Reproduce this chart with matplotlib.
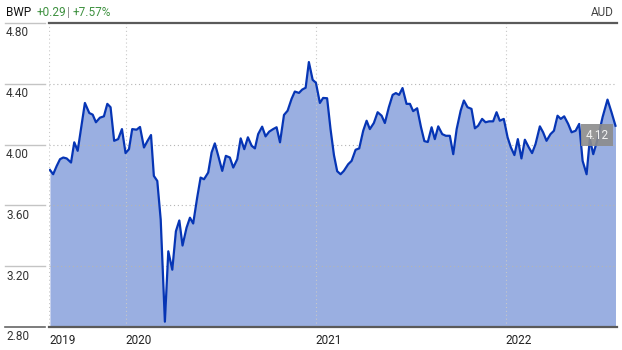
"""
BWP share price, weekly closes (AUD), area chart.
"""

import matplotlib
matplotlib.use('Agg')
import matplotlib.pyplot as plt
import matplotlib.transforms as mtransforms

# decimal year of each weekly close
t = [
    2019.600, 2019.617, 2019.635, 2019.653, 2019.670, 2019.688, 2019.711, 2019.728,
    2019.746, 2019.765, 2019.784, 2019.807, 2019.825, 2019.842, 2019.863, 2019.884,
    2019.902, 2019.919, 2019.938, 2019.959, 2019.979, 2019.998, 2020.016, 2020.033,
    2020.056, 2020.074, 2020.095, 2020.113, 2020.132, 2020.147, 2020.165, 2020.183,
    2020.205, 2020.223, 2020.244, 2020.263, 2020.281, 2020.298, 2020.319, 2020.337,
    2020.354, 2020.375, 2020.393, 2020.411, 2020.433, 2020.451, 2020.468, 2020.486,
    2020.507, 2020.526, 2020.547, 2020.565, 2020.586, 2020.604, 2020.623, 2020.642,
    2020.662, 2020.679, 2020.696, 2020.717, 2020.735, 2020.754, 2020.775, 2020.793,
    2020.811, 2020.832, 2020.851, 2020.872, 2020.889, 2020.911, 2020.928, 2020.946,
    2020.963, 2020.983, 2021.000, 2021.021, 2021.038, 2021.059, 2021.077, 2021.095,
    2021.112, 2021.130, 2021.147, 2021.170, 2021.188, 2021.209, 2021.228, 2021.249,
    2021.267, 2021.284, 2021.305, 2021.325, 2021.346, 2021.363, 2021.384, 2021.404,
    2021.421, 2021.438, 2021.456, 2021.477, 2021.495, 2021.512, 2021.533, 2021.553,
    2021.571, 2021.589, 2021.609, 2021.626, 2021.644, 2021.665, 2021.684, 2021.705,
    2021.723, 2021.741, 2021.762, 2021.779, 2021.798, 2021.819, 2021.837, 2021.854,
    2021.875, 2021.893, 2021.912, 2021.933, 2021.951, 2021.968, 2021.989, 2022.009,
    2022.026, 2022.045, 2022.063, 2022.082, 2022.100, 2022.121, 2022.138, 2022.156,
    2022.179, 2022.196, 2022.214, 2022.235, 2022.253, 2022.272, 2022.289, 2022.307,
    2022.328, 2022.346, 2022.367, 2022.386, 2022.404, 2022.425, 2022.442, 2022.460,
    2022.483, 2022.509, 2022.535, 2022.556, 2022.577,
]

price = [
    3.833, 3.805, 3.858, 3.904, 3.915, 3.909, 3.882, 4.015,
    3.959, 4.116, 4.274, 4.208, 4.197, 4.147, 4.177, 4.186,
    4.268, 4.246, 4.025, 4.036, 4.102, 3.944, 3.970, 4.102,
    4.098, 4.116, 3.981, 4.023, 4.063, 3.794, 3.761, 3.507,
    2.835, 3.298, 3.177, 3.430, 3.501, 3.336, 3.453, 3.519,
    3.481, 3.651, 3.783, 3.772, 3.816, 3.948, 4.008, 3.926,
    3.827, 3.926, 3.915, 3.849, 3.904, 4.041, 3.970, 4.048,
    3.992, 3.975, 4.069, 4.118, 4.054, 4.085, 4.102, 4.114,
    4.015, 4.195, 4.223, 4.301, 4.349, 4.340, 4.362, 4.374,
    4.543, 4.426, 4.407, 4.274, 4.307, 4.305, 4.102, 3.931,
    3.825, 3.805, 3.827, 3.871, 3.893, 3.966, 3.975, 4.091,
    4.157, 4.102, 4.142, 4.213, 4.190, 4.142, 4.246, 4.327,
    4.339, 4.327, 4.372, 4.268, 4.268, 4.220, 4.239, 4.116,
    4.023, 4.017, 4.114, 4.036, 4.120, 4.069, 4.058, 4.058,
    3.937, 4.102, 4.223, 4.290, 4.246, 4.235, 4.107, 4.124,
    4.169, 4.147, 4.153, 4.153, 4.213, 4.157, 4.169, 4.048,
    3.983, 3.931, 4.036, 3.909, 4.032, 3.981, 3.944, 4.003,
    4.120, 4.081, 4.025, 4.069, 4.091, 4.190, 4.169, 4.186,
    4.136, 4.081, 4.091, 4.136, 3.893, 3.805, 4.036, 3.937,
    4.036, 4.180, 4.296, 4.213, 4.124,
]

y_ticks = [2.80, 3.20, 3.60, 4.00, 4.40, 4.80]
x_ticks = [2019.595, 2020.0, 2021.0, 2022.0]
x_labels = ['2019', '2020', '2021', '2022']

ticker = 'BWP'
change = '+0.29'
change_pct = '+7.57%'
currency = 'AUD'

FILL = '#9AAFE1'
LINE = '#0635B5'
GREEN = '#3E9140'
FONT = 'Roboto'

W, H = 622, 350
fig = plt.figure(figsize=(W / 100, H / 100), dpi=100)
ax = fig.add_axes([49 / W, 23 / H, 568 / W, 304 / H])

ax.fill_between(t, price, y_ticks[0], color=FILL, lw=0, zorder=1)
ax.plot(t, price, color=LINE, lw=1.6, zorder=4, solid_joinstyle='round')

ax.set_xlim(2019.595, 2022.585)
ax.set_ylim(y_ticks[0], y_ticks[-1])

# dotted grid on top of the fill
for v in y_ticks[1:-1]:
    ax.axhline(v, color='#b5b5b5', lw=0.8, ls=(0, (1, 2.5)), zorder=2)
for x in x_ticks:
    ax.axvline(x, color='#c8c8c8', lw=0.8, ls=(0, (1, 2.5)), zorder=2)

for s in ['left', 'right']:
    ax.spines[s].set_visible(False)
for s in ['top', 'bottom']:
    ax.spines[s].set_color('#5a5a5a')
    ax.spines[s].set_linewidth(1.6)
    ax.spines[s].set_zorder(5)

ax.set_yticks([])
ax.set_xticks(x_ticks)
ax.set_xticklabels(x_labels, fontsize=8.5, family=FONT, color='#222222', ha='left')
ax.tick_params(axis='x', length=0, pad=5)

# y labels sit in the left margin, under a short stub line
blend = mtransforms.blended_transform_factory(fig.transFigure, ax.transData)
for v in y_ticks:
    stub_col = '#666666' if v == y_ticks[0] else '#c4c4c4'
    stub_lw = 1.2 if v == y_ticks[0] else 1.0
    ax.plot([5 / W, 45 / W], [v, v], transform=blend, color=stub_col,
            lw=stub_lw, clip_on=False, zorder=5)
    ax.annotate(f'{v:.2f}', xy=(6 / W, v), xycoords=blend, xytext=(0, -2.5),
                textcoords='offset points', ha='left', va='top',
                fontsize=8.5, family=FONT, color='#333333', annotation_clip=False)

# last value tag
ax.annotate(f'{price[-1]:.2f}', xy=(t[-1], price[-1]), xytext=(-5, -2),
            textcoords='offset points', ha='right', va='top',
            fontsize=8.5, family=FONT, color='#f2f2f2', zorder=6,
            bbox=dict(boxstyle='square,pad=0.4', fc='#8c8c8c', ec='none', alpha=0.9))

# header
fig.text(6 / W, 1 - 12 / H, ticker, fontsize=8.5, family=FONT, color='#111111', va='center')
fig.text(37 / W, 1 - 12 / H, change, fontsize=8.5, family=FONT, color=GREEN, va='center')
fig.text(67.5 / W, 1 - 12 / H, '|', fontsize=8.5, family=FONT, color='#888888', va='center')
fig.text(73 / W, 1 - 12 / H, change_pct, fontsize=8.5, family=FONT, color=GREEN, va='center')
fig.text(614 / W, 1 - 12 / H, currency, fontsize=8.5, family=FONT, color='#444444',
         va='center', ha='right')

fig.savefig('out.png', dpi=100)
